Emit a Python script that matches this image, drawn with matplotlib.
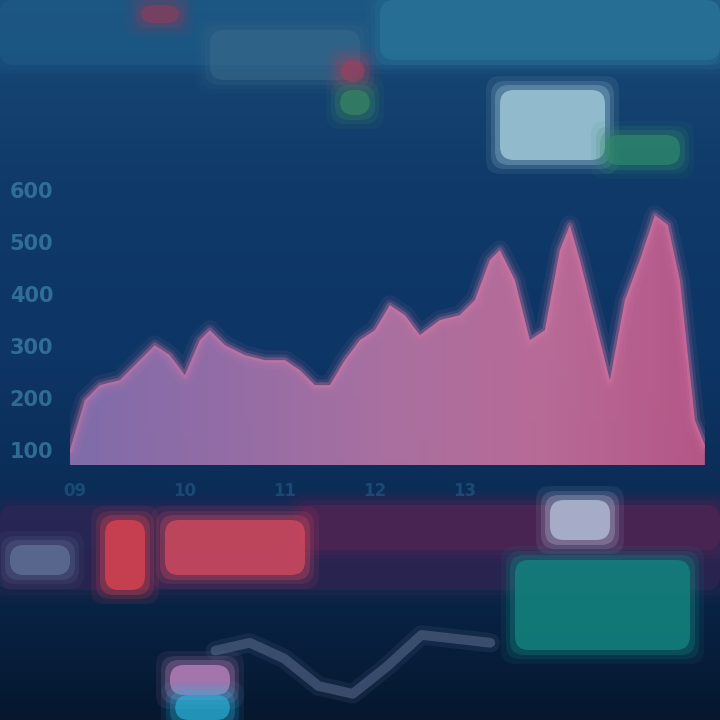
import numpy as np
import matplotlib.pyplot as plt
from matplotlib.patches import FancyBboxPatch
from matplotlib.colors import LinearSegmentedColormap

# main area series, read left to right off the screen
area_t = [0, 15, 30, 50, 70, 85, 100, 115, 130, 140, 155, 175, 195, 215, 230, 245, 260,
          275, 290, 305, 320, 335, 350, 370, 390, 405, 420, 430, 445, 460, 475, 490, 500,
          510, 525, 540, 555, 570, 585, 598, 610, 625, 635]
area_vals = [15, 65, 80, 85, 105, 120, 110, 90, 125, 135, 120, 110, 105, 105, 95, 80, 80,
             105, 125, 135, 160, 150, 130, 145, 150, 165, 205, 215, 185, 125, 135, 215, 240,
             205, 145, 85, 165, 205, 250, 240, 185, 45, 20]

y_ticks = [15, 67, 119, 171, 223, 275]
y_tick_labels = ['100', '200', '300', '400', '500', '600']
x_ticks = [5, 115, 215, 305, 395]
x_tick_labels = ['09', '10', '11', '12', '13']

# lower small trend line
trend_t = [0, 1, 2, 3, 4, 5, 6, 7, 8]
trend_vals = [60, 70, 50, 15, 5, 40, 80, 75, 70]

# dashboard blocks around the chart: (x, y, w, h, colour, alpha)
panel_blocks = [
    (0, 0, 720, 65, '#1e5a86', 0.7),
    (380, 0, 340, 60, '#2d7c9e', 0.55),
    (140, 5, 40, 18, '#9a3a55', 0.6),
    (210, 30, 150, 50, '#3d6c8c', 0.5),
    (340, 60, 25, 22, '#a33e5a', 0.7),
    (340, 90, 30, 25, '#3b8a60', 0.7),
    (500, 90, 105, 70, '#a9d2df', 0.8),
    (605, 135, 75, 30, '#2f8a6a', 0.75),
    (0, 505, 720, 85, '#3c2455', 0.5),
    (300, 505, 420, 45, '#4e2452', 0.85),
    (10, 545, 60, 30, '#6a7fa5', 0.65),
    (105, 520, 40, 70, '#dc4450', 0.85),
    (165, 520, 140, 55, '#d24a5e', 0.85),
    (550, 500, 60, 40, '#b8c6dd', 0.8),
    (515, 560, 175, 90, '#13857f', 0.85),
    (170, 665, 60, 30, '#c88ac8', 0.75),
    (175, 695, 55, 25, '#2ab0d8', 0.75),
]

fig = plt.figure(figsize=(7.2, 7.2), dpi=100)

# background: dark screen with slight vertical gradient
bg = fig.add_axes([0, 0, 1, 1])
bg_cmap = LinearSegmentedColormap.from_list('bg', ['#1a4b78', '#0f3a69', '#0d3565', '#0a2a52', '#06172e'])
bg.imshow(np.linspace(0, 1, 256).reshape(-1, 1), cmap=bg_cmap, aspect='auto', extent=[0, 720, 720, 0])
for x, y, w, h, c, a in panel_blocks:
    for grow, fade in [(14, 0.12), (9, 0.2), (5, 0.35), (0, 0.9)]:
        bg.add_patch(FancyBboxPatch((x - grow, y - grow), w + 2 * grow, h + 2 * grow,
                                    boxstyle='round,pad=0,rounding_size=14',
                                    fc=c, ec='none', alpha=a * fade))
bg.set_xlim(0, 720)
bg.set_ylim(720, 0)
bg.axis('off')

# main area chart
ax = fig.add_axes([0.097, 0.354, 0.882, 0.389])
ax.patch.set_alpha(0)
poly = ax.fill_between(area_t, area_vals, 0, color='none')
area_cmap = LinearSegmentedColormap.from_list('area', ['#8a72b2', '#a173ad', '#b876a6', '#c8709c', '#c45a8c'])
img = ax.imshow(np.linspace(0, 1, 256).reshape(1, -1), cmap=area_cmap, aspect='auto',
                extent=[0, 635, 0, 280], alpha=0.92)
img.set_clip_path(poly.get_paths()[0], transform=ax.transData)
for lw, a in [(14, 0.08), (8, 0.15), (4, 0.3)]:
    ax.plot(area_t, area_vals, color='#d97aa8', lw=lw, alpha=a, solid_capstyle='round')
ax.set_xlim(0, 635)
ax.set_ylim(0, 280)
ax.set_yticks(y_ticks)
ax.set_yticklabels(y_tick_labels, color='#3f86ab', fontsize=15, fontweight='bold', alpha=0.7)
ax.set_xticks(x_ticks)
ax.set_xticklabels(x_tick_labels, color='#2f6d98', fontsize=12, fontweight='bold', alpha=0.45)
ax.tick_params(length=0, pad=12)
for s in ax.spines.values():
    s.set_visible(False)

# lower small trend line
ax2 = fig.add_axes([0.28, 0.02, 0.42, 0.12])
ax2.patch.set_alpha(0)
for lw, a in [(14, 0.15), (7, 0.55)]:
    ax2.plot(trend_t, trend_vals, color='#5b6b8c', lw=lw, alpha=a, solid_capstyle='round')
ax2.set_ylim(-10, 100)
ax2.axis('off')

fig.savefig('out.png', dpi=100, facecolor='#0f3a69')
